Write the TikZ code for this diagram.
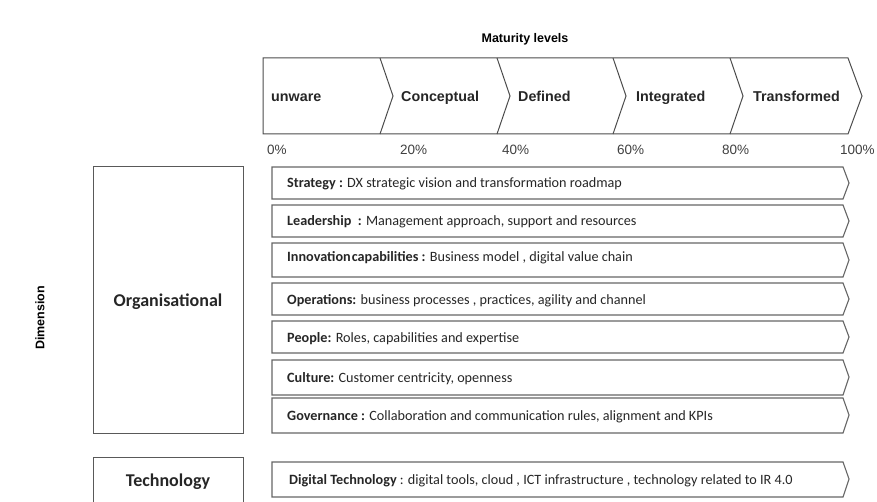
\documentclass[tikz,border=0pt]{standalone}
\usepackage{fontspec}
\setsansfont{Liberation Sans}
\newfontfamily\calibri{Carlito}
\begin{document}
\begin{tikzpicture}[
        x=1pt, y=-1pt,
        levelbar/.style={draw=black!70, line width=1pt},
        level/.style={anchor=base west, inner sep=0pt, font=\sffamily\bfseries\fontsize{14.3}{16}\selectfont, text=black!85},
        pct/.style={anchor=base west, inner sep=0pt, font=\sffamily\fontsize{13.5}{15}\selectfont, text=black!75},
        group/.style={draw=black!65, line width=1pt},
        grouplabel/.style={font=\calibri\bfseries\fontsize{18}{20}\selectfont, text=black!85},
        dimrow/.style={draw=black!60, line width=1.1pt},
        rowtext/.style={anchor=base west, inner sep=0pt, font=\calibri\fontsize{14.2}{16}\selectfont, text=black!85}
    ]

    % Page frame
    \clip (0,0) rectangle (877,502);

    % Axis titles
    \node[font=\sffamily\bfseries\fontsize{12.5}{14}\selectfont] (title) at (525,39) {Maturity levels};
    \node[font=\sffamily\bfseries\fontsize{12.5}{14}\selectfont, rotate=90] (dimension) at (40,318) {Dimension};

    % Chevron bar of the maturity levels
    \draw[levelbar] (263,58) -- (848,58) -- (862,96) -- (848,134) -- (263,134) -- cycle;
    \draw[levelbar] (380,58) -- (393,96) -- (380,134);
    \draw[levelbar] (497,58) -- (510,96) -- (497,134);
    \draw[levelbar] (613,58) -- (626,96) -- (613,134);
    \draw[levelbar] (730,58) -- (743,96) -- (730,134);

    \node[level] (unware) at (271,102) {unware};
    \node[level] (conceptual) at (401,102) {Conceptual};
    \node[level] (defined) at (518,102) {Defined};
    \node[level] (integrated) at (636,102) {Integrated};
    \node[level] (transformed) at (753,102) {Transformed};

    % Percentage scale
    \node[pct] (p0) at (267,155) {0\%};
    \node[pct] (p20) at (400,155) {20\%};
    \node[pct] (p40) at (502,155) {40\%};
    \node[pct] (p60) at (617,155) {60\%};
    \node[pct] (p80) at (722,155) {80\%};
    \node[pct] (p100) at (840,155) {100\%};

    % Dimension groups
    \draw[group] (93,167) rectangle (243,433);
    \node[grouplabel] (organisational) at (168,302) {Organisational};
    \draw[group] (93,457) rectangle (243,530);
    \node[grouplabel] (technology) at (168,482) {Technology};

    % Organisational rows
    \draw[dimrow] (272,167) -- (843,167) -- (849,183) -- (843,199) -- (272,199) -- cycle;
    \node[rowtext] (strategy) at (287,187.5) {\textbf{Strategy :} DX strategic vision and transformation roadmap};

    \draw[dimrow] (272,205) -- (843,205) -- (849,221) -- (843,237) -- (272,237) -- cycle;
    \node[rowtext] (leadership) at (287,225.5) {\textbf{Leadership\ \ :} Management approach, support and resources};

    \draw[dimrow] (272,243) -- (843,243) -- (849,260) -- (843,277) -- (272,277) -- cycle;
    \node[rowtext] (innovation) at (287,261.5) {\textbf{Innovation\hspace{1pt}capabilities :} Business model , digital value chain};

    \draw[dimrow] (272,283) -- (843,283) -- (849,299) -- (843,315) -- (272,315) -- cycle;
    \node[rowtext] (operations) at (287,304.5) {\textbf{Operations:} business processes , practices, agility and channel};

    \draw[dimrow] (272,321) -- (843,321) -- (849,337) -- (843,353) -- (272,353) -- cycle;
    \node[rowtext] (people) at (287,342.5) {\textbf{People:} Roles, capabilities and expertise};

    \draw[dimrow] (272,360) -- (843,360) -- (849,377) -- (843,395) -- (272,395) -- cycle;
    \node[rowtext] (culture) at (287,382.5) {\textbf{Culture:} Customer centricity, openness};

    \draw[dimrow] (272,398) -- (843,398) -- (849,415) -- (843,433) -- (272,433) -- cycle;
    \node[rowtext] (governance) at (287,420.5) {\textbf{Governance :} Collaboration and communication rules, alignment and KPIs};

    % Technology row
    \draw[dimrow] (272,462) -- (843,462) -- (849,479) -- (843,497) -- (272,497) -- cycle;
    \node[rowtext] (digital) at (289,484.5) {\textbf{Digital Technology} : digital tools, cloud , ICT infrastructure , technology related to IR 4.0};

\end{tikzpicture}
\end{document}
